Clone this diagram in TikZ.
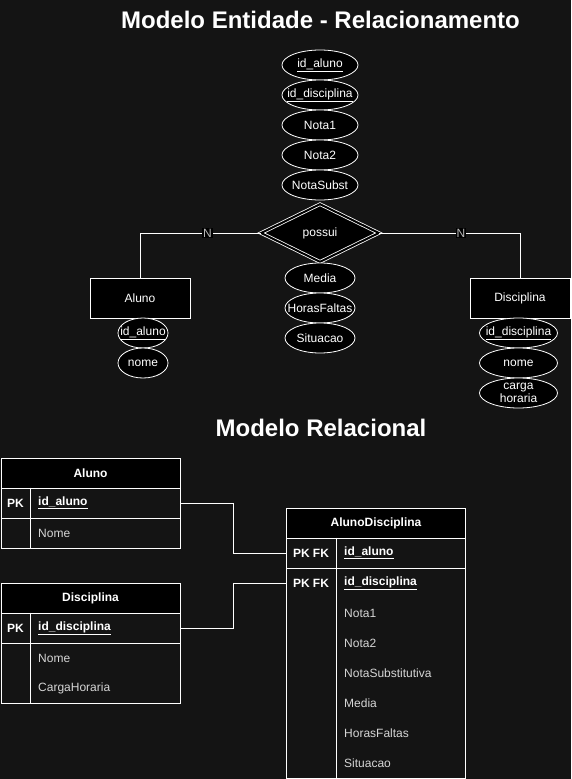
\documentclass[tikz,border=0pt]{standalone}
\usepackage{fontspec}
\setmainfont{Liberation Sans}
\usetikzlibrary{shapes.geometric}
\definecolor{bg}{HTML}{141414}
\definecolor{txt}{HTML}{D6D6D6}
\definecolor{lbl}{HTML}{B8B8B8}
\newcommand{\fx}[1]{\makebox[0pt]{#1}}
\begin{document}
\begin{tikzpicture}[x=1pt,y=-1pt,
  base/.style={font=\fontsize{12}{14}\selectfont},
  attr/.style={base,ellipse,draw=white,fill=black,line width=0.8pt,minimum width=76pt,minimum height=30pt,inner sep=0pt,text=white},
  sattr/.style={attr,minimum width=70pt},
  kattr/.style={attr,minimum width=50pt},
  ent/.style={base,rectangle,draw=white,fill=black,line width=0.9pt,minimum width=100pt,minimum height=40pt,inner sep=0pt,text=white},
  rel/.style={base,diamond,draw=white,double=black,double distance=2pt,line width=0.8pt,fill=black,minimum width=118pt,minimum height=58pt,inner sep=0pt,text=white},
  conn/.style={draw=white,line width=0.9pt},
  card/.style={fill=black,text=lbl,inner xsep=0.8pt,inner ysep=1pt,font=\fontsize{12}{13}\selectfont},
  ttl/.style={text=white,font=\fontsize{24}{28}\selectfont\bfseries},
  thead/.style={rectangle,draw=white,fill=black,line width=0.9pt,minimum width=179pt,minimum height=30pt,inner sep=0pt,text=white,font=\fontsize{12}{14}\selectfont\bfseries},
  trow/.style={rectangle,draw=white,line width=0.9pt,minimum width=179pt,inner sep=0pt},
  tkey/.style={text=white,inner sep=0pt,font=\fontsize{12}{14}\selectfont\bfseries},
  tkf/.style={tkey,anchor=west},
  tfld/.style={base,text=txt,inner sep=0pt,anchor=west}
]
\path[fill=bg] (0,0) rectangle (571,779);
\useasboundingbox (0,0) rectangle (571,779);

% ---------- ER model ----------
\node[ttl] (t1) at (320.5,20) {Modelo Entidade - Relacionamento};

\node[attr] (a1) at (320,65) {\fx{\underline{id\_aluno}}};
\node[attr] (a2) at (320,95) {\fx{\underline{id\_disciplina}}};
\node[attr] (a3) at (320,125) {\fx{Nota1}};
\node[attr] (a4) at (320,155) {\fx{Nota2}};
\node[attr] (a5) at (320,185) {\fx{NotaSubst}};
\node[rel] (possui) at (320,233) {possui};
\node[sattr] (a6) at (320,278) {\fx{Media}};
\node[sattr] (a7) at (320,308) {\fx{HorasFaltas}};
\node[sattr] (a8) at (320,338) {\fx{Situacao}};

\node[ent] (aluno) at (140,298) {Aluno};
\node[kattr] (al1) at (143,333) {\fx{\underline{id\_aluno}}};
\node[kattr] (al2) at (143,363) {\fx{nome}};

\node[ent] (disc) at (520,298) {Disciplina};
\node[attr,minimum width=78pt] (d1) at (518.5,333) {\fx{\underline{id\_disciplina}}};
\node[attr,minimum width=78pt] (d2) at (518.5,363) {\fx{nome}};
\node[attr,minimum width=78pt] (d3) at (518.5,393) {\fx{\shortstack{carga\\[-1pt]horaria}}};

\draw[conn] (aluno.north) |- (possui.west) node[card,pos=0.78] (n1) {N};
\draw[conn] (possui.east) -| (disc.north) node[card,pos=0.29] (n2) {N};

% ---------- Relational model ----------
\node[ttl] (t2) at (321,428) {Modelo Relacional};

% Aluno table
\node[thead] (aH) at (90.5,473) {Aluno};
\node[trow,minimum height=30pt] (aR1) at (90.5,503) {};
\node[trow,minimum height=30pt] (aR2) at (90.5,533) {};
\draw[conn] ([xshift=29.5pt]aR1.north west) -- ([xshift=29.5pt]aR2.south west);
\node[tkey] (aPK) at (15.5,503) {PK};
\node[tkf] (aId) at (38,503) {\underline{id\_aluno}};
\node[tfld] (aNome) at (38,533) {Nome};

% Disciplina table
\node[thead] (dH) at (90.5,598) {Disciplina};
\node[trow,minimum height=30pt] (dR1) at (90.5,628) {};
\node[trow,minimum height=60pt] (dR2) at (90.5,673) {};
\draw[conn] ([xshift=29.5pt]dR1.north west) -- ([xshift=29.5pt]dR2.south west);
\node[tkey] (dPK) at (15.5,628) {PK};
\node[tkf] (dId) at (38,628) {\underline{id\_disciplina}};
\node[tfld] (dNome) at (38,658) {Nome};
\node[tfld] (dCH) at (38,688) {CargaHoraria};

% AlunoDisciplina table
\node[thead] (adH) at (376,523) {AlunoDisciplina};
\node[trow,minimum height=30pt] (adR1) at (376,553) {};
\node[trow,minimum height=210pt] (adB) at (376,673) {};
\node[inner sep=0pt,minimum width=179pt,minimum height=30pt] (adR2) at (376,583) {};
\draw[conn] ([xshift=50pt]adR1.north west) -- ([xshift=50pt]adB.south west);
\node[tkey] (adPK1) at (311,553) {PK FK};
\node[tkey] (adPK2) at (311,583) {PK FK};
\node[tkf] (adF1) at (344,553) {\underline{id\_aluno}};
\node[tkf] (adF2) at (344,583) {\underline{id\_disciplina}};
\node[tfld] (adF3) at (344,613) {Nota1};
\node[tfld] (adF4) at (344,643) {Nota2};
\node[tfld] (adF5) at (344,673) {NotaSubstitutiva};
\node[tfld] (adF6) at (344,703) {Media};
\node[tfld] (adF7) at (344,733) {HorasFaltas};
\node[tfld] (adF8) at (344,763) {Situacao};

% connectors
\draw[conn] (aR1.east) -- ++(53,0) |- (adR1.west);
\draw[conn] (dR1.east) -- ++(53,0) |- (adR2.west);
\end{tikzpicture}
\end{document}
